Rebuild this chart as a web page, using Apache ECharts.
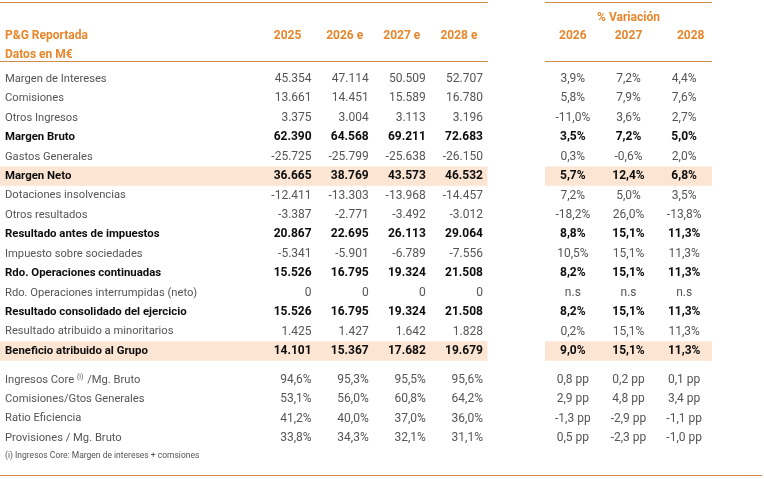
<!DOCTYPE html>
<html>
<head>
<meta charset="utf-8">
<script src="https://cdn.jsdelivr.net/npm/echarts@6/dist/echarts.min.js"></script>
<style>
  html, body { margin: 0; padding: 0; background: #fff; }
  #chart { width: 764px; height: 479px; }
</style>
</head>
<body>
<div id="chart"></div>
<script>
// P&G rows (M€)
const rows = [
  'Margen de Intereses', 'Comisiones', 'Otros Ingresos', 'Margen Bruto', 'Gastos Generales',
  'Margen Neto', 'Dotaciones insolvencias', 'Otros resultados', 'Resultado antes de impuestos',
  'Impuesto sobre sociedades', 'Rdo. Operaciones continuadas', 'Rdo. Operaciones interrumpidas (neto)',
  'Resultado consolidado del ejercicio', 'Resultado atribuido a minoritarios', 'Beneficio atribuido al Grupo'
]
const boldRows = [
  'Margen Bruto', 'Margen Neto', 'Resultado antes de impuestos', 'Rdo. Operaciones continuadas',
  'Resultado consolidado del ejercicio', 'Beneficio atribuido al Grupo'
]
const highlightRows = ['Margen Neto', 'Beneficio atribuido al Grupo']

const yearCols = ['2025', '2026 e', '2027 e', '2028 e']
const varCols = ['2026', '2027', '2028']

const v2025 = [45354, 13661, 3375, 62390, -25725, 36665, -12411, -3387, 20867, -5341, 15526, 0, 15526, 1425, 14101]
const v2026 = [47114, 14451, 3004, 64568, -25799, 38769, -13303, -2771, 22695, -5901, 16795, 0, 16795, 1427, 15367]
const v2027 = [50509, 15589, 3113, 69211, -25638, 43573, -13968, -3492, 26113, -6789, 19324, 0, 19324, 1642, 17682]
const v2028 = [52707, 16780, 3196, 72683, -26150, 46532, -14457, -3012, 29064, -7556, 21508, 0, 21508, 1828, 19679]

// % variación (null = n.s)
const var2026 = [3.9, 5.8, -11.0, 3.5, 0.3, 5.7, 7.2, -18.2, 8.8, 10.5, 8.2, null, 8.2, 0.2, 9.0]
const var2027 = [7.2, 7.9, 3.6, 7.2, -0.6, 12.4, 5.0, 26.0, 15.1, 15.1, 15.1, null, 15.1, 15.1, 15.1]
const var2028 = [4.4, 7.6, 2.7, 5.0, 2.0, 6.8, 3.5, -13.8, 11.3, 11.3, 11.3, null, 11.3, 11.3, 11.3]

// ratios
const ratioRows = ['Ingresos Core (i) /Mg. Bruto', 'Comisiones/Gtos Generales', 'Ratio Eficiencia', 'Provisiones / Mg. Bruto']
const r2025 = [94.6, 53.1, 41.2, 33.8]
const r2026 = [95.3, 56.0, 40.0, 34.3]
const r2027 = [95.5, 60.8, 37.0, 32.1]
const r2028 = [95.6, 64.2, 36.0, 31.1]
const pp2026 = [0.8, 2.9, -1.3, 0.5]
const pp2027 = [0.2, 4.8, -2.9, -2.3]
const pp2028 = [0.1, 3.4, -1.1, -1.0]

const FONT = 'Roboto'
const ORANGE = '#e8862c'
const LINE = '#cf8a4c'
const REG = '#555555'
const BOLD = '#0d0d0d'
const BAND = '#fce5d3'

const fmtInt = v => (v < 0 ? '-' : '') + Math.abs(v).toString().replace(/\B(?=(\d{3})+(?!\d))/g, '.')
const fmtPct = v => v == null ? 'n.s' : v.toFixed(1).replace('.', ',') + '%'
const fmtPp = v => v.toFixed(1).replace('.', ',') + ' pp'

function buildCells(cols, names, fmt) {
  const list = []
  cols.forEach((col, c) => {
    col.forEach((v, r) => {
      list.push({ value: [c, r], text: fmt(v), bold: boldRows.includes(names[r]) })
    })
  })
  return list
}

function textSeries(cells, idx, align, dx) {
  return {
    type: 'custom',
    xAxisIndex: idx,
    yAxisIndex: idx,
    z: 3,
    clip: false,
    data: cells.map(c => c.value),
    renderItem(params, api) {
      const cell = cells[params.dataIndex]
      const pt = api.coord([api.value(0), api.value(1)])
      return {
        type: 'text',
        x: pt[0] + dx,
        y: pt[1],
        style: {
          text: cell.text,
          fill: cell.bold ? BOLD : REG,
          fontSize: 12,
          fontWeight: cell.bold ? 'bold' : 'normal',
          fontFamily: FONT,
          align: align,
          verticalAlign: 'middle'
        }
      }
    }
  }
}

function bandSeries(idx, fromZero) {
  return {
    type: 'custom',
    xAxisIndex: idx,
    yAxisIndex: idx,
    z: -1,
    clip: false,
    silent: true,
    data: highlightRows.map(name => [0, rows.indexOf(name)]),
    renderItem(params, api) {
      const pt = api.coord([0, api.value(1)])
      const h = api.size([0, 1])[1]
      const cs = params.coordSys
      const x0 = fromZero ? 0 : cs.x
      return {
        type: 'rect',
        shape: { x: x0, y: pt[1] - h / 2, width: cs.x + cs.width - x0, height: h },
        style: { fill: BAND }
      }
    }
  }
}

const rowLabel = {
  show: true,
  interval: 0,
  align: 'left',
  margin: 254,
  formatter(val) {
    if (val.indexOf('(i)') >= 0) {
      const parts = val.split('(i)')
      return '{n|' + parts[0] + '}{sup|(i)}{n|' + parts[1] + '}'
    }
    return boldRows.includes(val) ? '{b|' + val + '}' : '{n|' + val + '}'
  },
  rich: {
    n: { fontSize: 11.2, color: REG, fontFamily: FONT },
    b: { fontSize: 11.4, color: BOLD, fontWeight: 'bold', fontFamily: FONT },
    sup: { fontSize: 7, color: REG, fontFamily: FONT, verticalAlign: 'top', padding: [0, 1, 6, 0] }
  }
}

const hidden = { show: false }
const noLine = { axisLine: hidden, axisTick: hidden, splitLine: hidden }

const pitchTop = (349 - 77) / 14
const pitchBot = (436 - 378) / 3
const topRow = 79
const botRow = 380

const grids = [
  { left: 259, right: 276.5, top: topRow - pitchTop / 2, height: pitchTop * 15 },
  { left: 259, right: 276.5, top: botRow - pitchBot / 2, height: pitchBot * 4 },
  { left: 545, right: 52, top: topRow - pitchTop / 2, height: pitchTop * 15 },
  { left: 545, right: 52, top: botRow - pitchBot / 2, height: pitchBot * 4 }
].map(g => Object.assign(g, { outerBoundsMode: 'none', containLabel: false }))

const headLabel = {
  interval: 0,
  color: ORANGE,
  fontSize: 12,
  fontWeight: 'bold',
  fontFamily: FONT,
  verticalAlign: 'middle',
  margin: 33
}

const varHeadLabel = Object.assign({}, headLabel, {
  formatter: (val, i) => i === varCols.length - 1 ? '{last|' + val + '}' : '{h|' + val + '}',
  rich: {
    h: { color: ORANGE, fontSize: 12, fontWeight: 'bold', fontFamily: FONT },
    last: { color: ORANGE, fontSize: 12, fontWeight: 'bold', fontFamily: FONT, padding: [0, 0, 0, 13] }
  }
})

const option = {
  backgroundColor: '#fff',
  animation: false,
  title: [
    { text: 'P&G Reportada', left: 5, top: 30, padding: 0, textStyle: { color: ORANGE, fontSize: 12, fontWeight: 'bold', fontFamily: FONT } },
    { text: 'Datos en M€', left: 5, top: 49, padding: 0, textStyle: { color: ORANGE, fontSize: 12, fontWeight: 'bold', fontFamily: FONT } }
  ],
  grid: grids,
  xAxis: [
    Object.assign({ type: 'category', gridIndex: 0, position: 'top', data: yearCols, axisLabel: headLabel }, noLine),
    Object.assign({ type: 'category', gridIndex: 1, data: yearCols, axisLabel: hidden }, noLine),
    Object.assign({
      type: 'category', gridIndex: 2, position: 'top', data: varCols, axisLabel: varHeadLabel,
      name: '% Variación', nameLocation: 'middle', nameGap: 45,
      nameTextStyle: { color: ORANGE, fontSize: 12, fontWeight: 'bold', fontFamily: FONT }
    }, noLine),
    Object.assign({ type: 'category', gridIndex: 3, data: varCols, axisLabel: hidden }, noLine)
  ],
  yAxis: [
    Object.assign({ type: 'category', gridIndex: 0, inverse: true, z: 5, data: rows, axisLabel: rowLabel }, noLine),
    Object.assign({ type: 'category', gridIndex: 1, inverse: true, z: 5, data: ratioRows, axisLabel: rowLabel }, noLine),
    Object.assign({ type: 'category', gridIndex: 2, inverse: true, data: rows, axisLabel: hidden }, noLine),
    Object.assign({ type: 'category', gridIndex: 3, inverse: true, data: ratioRows, axisLabel: hidden }, noLine)
  ],
  graphic: [
    { type: 'line', shape: { x1: 0, y1: 2.5, x2: 488, y2: 2.5 }, style: { stroke: LINE, lineWidth: 1 } },
    { type: 'line', shape: { x1: 545, y1: 2.5, x2: 712, y2: 2.5 }, style: { stroke: LINE, lineWidth: 1 } },
    { type: 'line', shape: { x1: 0, y1: 61.5, x2: 488, y2: 61.5 }, style: { stroke: LINE, lineWidth: 1 } },
    { type: 'line', shape: { x1: 545, y1: 61.5, x2: 712, y2: 61.5 }, style: { stroke: LINE, lineWidth: 1 } },
    { type: 'line', shape: { x1: 0, y1: 475.5, x2: 762, y2: 475.5 }, style: { stroke: LINE, lineWidth: 1 } },
    {
      type: 'text', left: 5, top: 451,
      style: { text: '(i) Ingresos Core: Margen de intereses + comsiones', fill: REG, fontSize: 8.5, fontFamily: FONT }
    }
  ],
  series: [
    bandSeries(0, true),
    bandSeries(2, false),
    textSeries(buildCells([v2025, v2026, v2027, v2028], rows, fmtInt), 0, 'right', 24),
    textSeries(buildCells([r2025, r2026, r2027, r2028], ratioRows, fmtPct), 1, 'right', 24),
    textSeries(buildCells([var2026, var2027, var2028], rows, fmtPct), 2, 'center', 0),
    textSeries(buildCells([pp2026, pp2027, pp2028], ratioRows, fmtPp), 3, 'center', 0)
  ]
}

const chart = echarts.init(document.getElementById('chart'))
chart.setOption(option)
</script>
</body>
</html>
